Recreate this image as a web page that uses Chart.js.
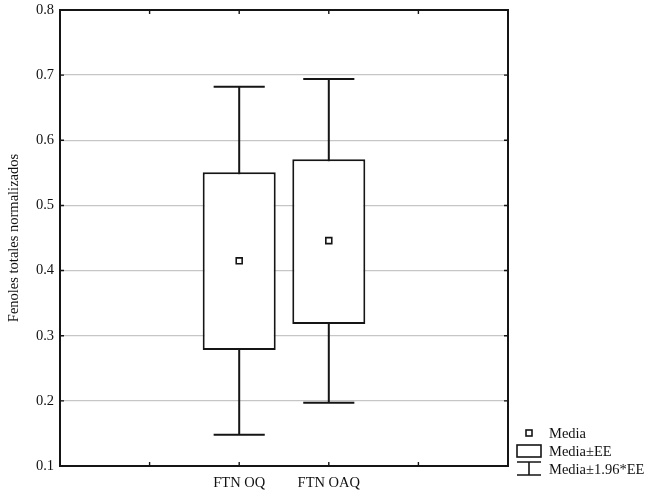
<!DOCTYPE html>
<html>
<head>
<meta charset="utf-8">
<script src="https://cdn.jsdelivr.net/npm/chart.js@4/dist/chart.umd.min.js"></script>
<style>
html,body{margin:0;padding:0;background:#fff;}
#wrap{width:655px;height:497px;position:relative;}
</style>
</head>
<body>
<div id="wrap"><canvas id="c" width="655" height="497"></canvas></div>
<script>
const tickLabels = ['', '', 'FTN OQ', 'FTN OAQ', '', ''];
const categories = ['FTN OQ', 'FTN OAQ'];
const means = [0.415, 0.446];
const seLow = [0.278, 0.318];
const seHigh = [0.551, 0.571];
const ciLow = [0.148, 0.197];
const ciHigh = [0.682, 0.694];
const yTicks = [0.1, 0.2, 0.3, 0.4, 0.5, 0.6, 0.7, 0.8];
const yTitle = 'Fenoles totales normalizados';
const legendLabels = ['Media', 'Media±EE', 'Media±1.96*EE'];

const FONT = 'Liberation Serif';
const INK = '#151515';

const whiskerPlugin = {
  id: 'whiskers',
  beforeDatasetsDraw(chart) {
    const ctx = chart.ctx, y = chart.scales.y;
    const meta = chart.getDatasetMeta(1);
    ctx.save();
    ctx.strokeStyle = INK;
    ctx.lineWidth = 2;
    meta.data.forEach((bar, i) => {
      const cx = bar.x;
      const capHalf = bar.width * 0.35;
      const yTop = y.getPixelForValue(ciHigh[i]);
      const yBot = y.getPixelForValue(ciLow[i]);
      ctx.beginPath();
      ctx.moveTo(cx, yTop); ctx.lineTo(cx, yBot);
      ctx.moveTo(cx - capHalf, yTop); ctx.lineTo(cx + capHalf, yTop);
      ctx.moveTo(cx - capHalf, yBot); ctx.lineTo(cx + capHalf, yBot);
      ctx.stroke();
    });
    ctx.restore();
  },
  afterDraw(chart) {
    const ctx = chart.ctx, a = chart.chartArea;
    const xs = chart.scales.x, ys = chart.scales.y;
    ctx.save();
    ctx.strokeStyle = INK;
    ctx.lineWidth = 2;
    ctx.strokeRect(a.left, a.top, a.right - a.left, a.bottom - a.top);
    ctx.lineWidth = 1.4;
    ctx.beginPath();
    for (let i = 1; i < tickLabels.length - 1; i++) {
      const px = xs.getPixelForValue(i);
      ctx.moveTo(px, a.bottom); ctx.lineTo(px, a.bottom - 4);
      ctx.moveTo(px, a.top); ctx.lineTo(px, a.top + 4);
    }
    yTicks.forEach(v => {
      const py = ys.getPixelForValue(v);
      ctx.moveTo(a.left, py); ctx.lineTo(a.left + 4, py);
      ctx.moveTo(a.right, py); ctx.lineTo(a.right - 4, py);
    });
    ctx.stroke();

    // legend
    const lx = a.right + 9, tx = a.right + 41;
    const rows = [433, 451, 469];
    ctx.lineWidth = 1.6;
    ctx.fillStyle = '#fff';
    ctx.fillRect(lx + 9, rows[0] - 3, 6, 6);
    ctx.strokeRect(lx + 9, rows[0] - 3, 6, 6);
    ctx.fillRect(lx, rows[1] - 6, 24, 12);
    ctx.strokeRect(lx, rows[1] - 6, 24, 12);
    ctx.beginPath();
    ctx.moveTo(lx, 462); ctx.lineTo(lx + 24, 462);
    ctx.moveTo(lx + 12, 462); ctx.lineTo(lx + 12, 475);
    ctx.moveTo(lx, 475); ctx.lineTo(lx + 24, 475);
    ctx.stroke();
    ctx.fillStyle = '#111';
    ctx.font = '14.5px "' + FONT + '"';
    ctx.textBaseline = 'middle';
    ctx.textAlign = 'left';
    legendLabels.forEach((t, i) => ctx.fillText(t, tx, rows[i] + 1));
    ctx.restore();
  }
};

new Chart(document.getElementById('c'), {
  type: 'bar',
  data: {
    labels: tickLabels,
    datasets: [
      {
        type: 'line',
        order: 0,
        data: categories.map((c, i) => ({x: c, y: means[i]})),
        showLine: false,
        pointStyle: 'rect',
        pointRadius: 4.2,
        pointBackgroundColor: '#fff',
        pointBorderColor: INK,
        pointBorderWidth: 1.6
      },
      {
        type: 'bar',
        order: 1,
        data: categories.map((c, i) => ({x: c, y: [seLow[i], seHigh[i]]})),
        backgroundColor: '#fff',
        borderColor: INK,
        borderWidth: 2,
        borderSkipped: false,
        categoryPercentage: 1,
        barPercentage: 0.815
      }
    ]
  },
  plugins: [whiskerPlugin],
  options: {
    responsive: false,
    animation: false,
    layout: {padding: {top: 10, right: 147, bottom: 0, left: 0}},
    plugins: {legend: {display: false}, tooltip: {enabled: false}},
    scales: {
      x: {
        type: 'category',
        offset: false,
        grid: {display: false, drawTicks: false},
        border: {display: false},
        ticks: {
          autoSkip: false, maxRotation: 0, padding: 8,
          color: '#111', font: {family: FONT, size: 14.5}
        },
        afterFit(s) { s.height = 31; s.paddingLeft = 0; s.paddingRight = 0; }
      },
      y: {
        min: 0.1, max: 0.8,
        afterBuildTicks(s) { s.ticks = yTicks.map(v => ({value: v})); },
        grid: {
          drawTicks: false,
          color: ctx => (ctx.tick && (Math.abs(ctx.tick.value - 0.1) < 1e-6 || Math.abs(ctx.tick.value - 0.8) < 1e-6)) ? 'rgba(0,0,0,0)' : '#c6c6c6',
          lineWidth: 1.3
        },
        border: {display: false},
        ticks: {
          padding: 6, color: '#111',
          font: {family: FONT, size: 14.5},
          callback: v => Number(v).toFixed(1)
        },
        title: {
          display: true, text: yTitle, color: '#111',
          font: {family: FONT, size: 14.5},
          padding: {top: 5, bottom: 0}
        },
        afterFit(s) { s.width = 60; s.paddingTop = 0; s.paddingBottom = 0; }
      }
    }
  }
});
</script>
</body>
</html>
